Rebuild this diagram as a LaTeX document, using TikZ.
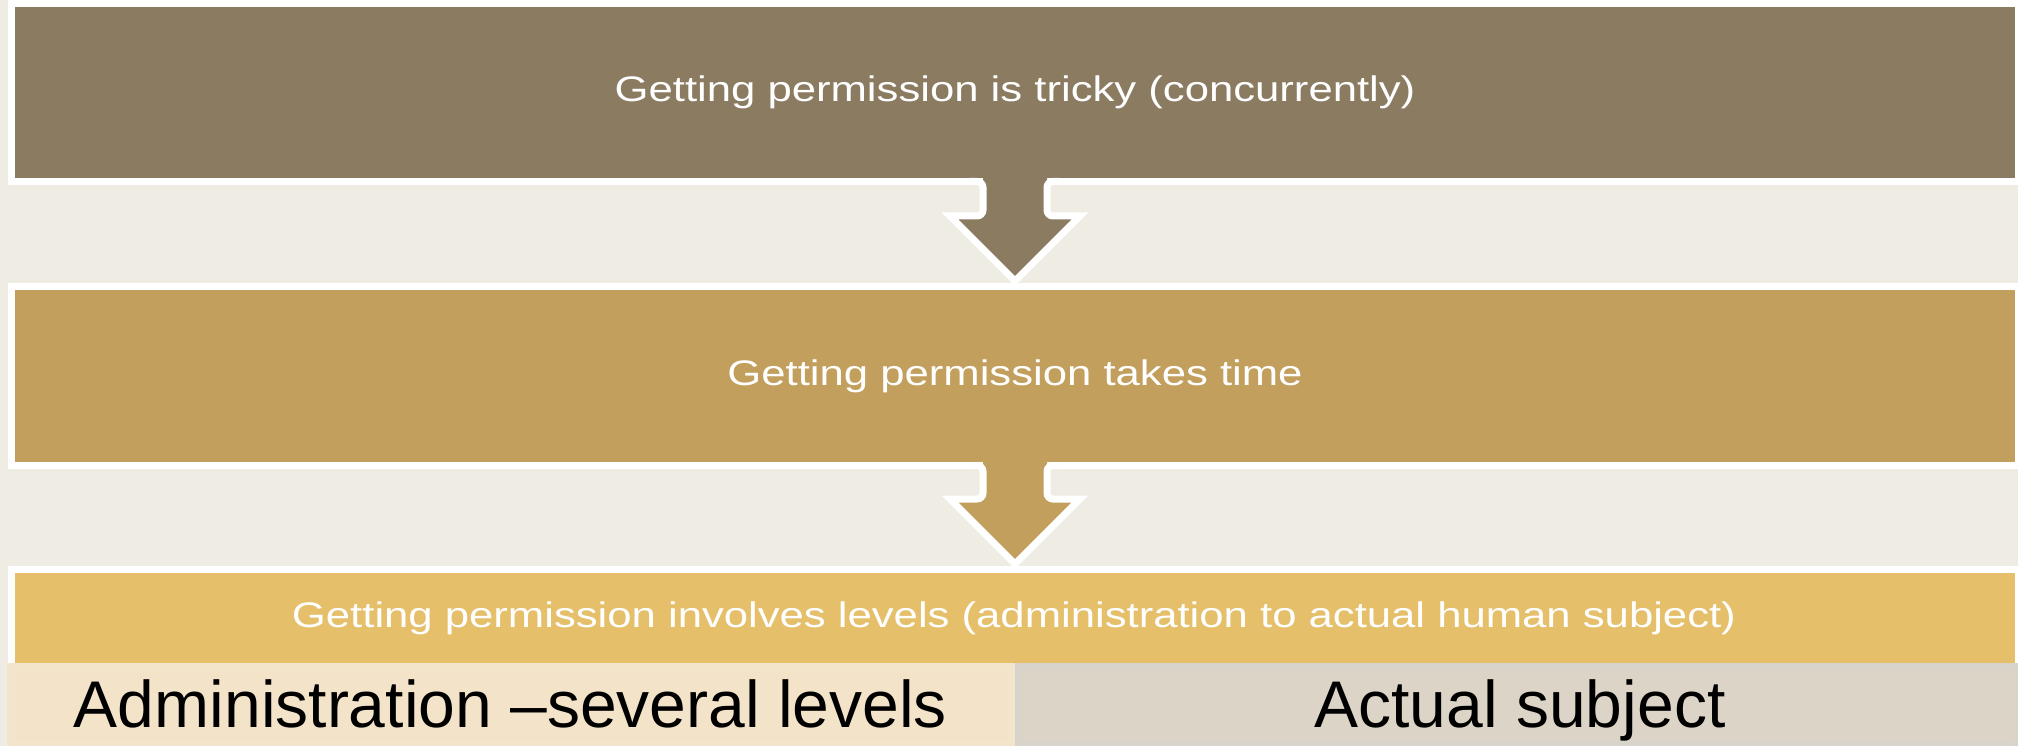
\documentclass[tikz,border=0pt]{standalone}
\usepackage{fontspec}
\setmainfont{Liberation Sans}
\newfontfamily\widefont[FakeStretch=1.23]{Liberation Sans}
\usetikzlibrary{calc}
\definecolor{bg}{HTML}{EFECE4}
\definecolor{cA}{HTML}{8A7B61}
\definecolor{cB}{HTML}{C29F5D}
\definecolor{cC}{HTML}{E5BF6A}
\definecolor{cL}{HTML}{F2E5CC}
\definecolor{cLi}{HTML}{F3E3C8}
\definecolor{cR}{HTML}{D8D4CC}
\definecolor{cRi}{HTML}{DCD4C7}
\begin{document}
\begin{tikzpicture}[x=1pt,y=-1pt,
  box/.style={rectangle, draw=white, line width=7pt, outer sep=0pt, inner sep=0pt},
  cell/.style={rectangle, draw=none, outer sep=0pt, inner sep=0pt},
  lbl/.style={text=white, font=\widefont\fontsize{35.5}{40}\selectfont, anchor=base, inner sep=0pt},
  big/.style={text=black, font=\fontsize{66}{72}\selectfont, anchor=base, inner sep=0pt},
  outline/.style={white, line width=7pt, line join=miter}
  ]
\useasboundingbox (0,0) rectangle (2018,746);
\fill[bg] (0,0) rectangle (2018,746);

% boxes
\node[box, fill=cA, minimum width=2007pt, minimum height=178pt] (b1) at (1015,92.5) {};
\node[box, fill=cB, minimum width=2007pt, minimum height=179pt] (b2) at (1015,376) {};
\node[box, fill=cC, minimum width=2007pt, minimum height=97pt] (b3) at (1015,618) {};

% arrow 1
\coordinate (tip1) at ($(b2.north)+(0,-5.5)$);
\fill[cA] ($(b1.south)+(-32,-10)$) -- ($(tip1)+(-32,-65)$) -- ($(tip1)+(-65,-65)$) -- (tip1)
  -- ($(tip1)+(65,-65)$) -- ($(tip1)+(32,-65)$) -- ($(b1.south)+(32,-10)$) -- cycle;
\draw[outline] ($(b1.south)+(-45,0)$) [rounded corners=6pt] -- ($(b1.south)+(-32,0)$)
  -- ($(tip1)+(-32,-65)$) [sharp corners] -- ($(tip1)+(-65,-65)$) -- (tip1)
  -- ($(tip1)+(65,-65)$) [rounded corners=6pt] -- ($(tip1)+(32,-65)$)
  -- ($(b1.south)+(32,0)$) -- ($(b1.south)+(45,0)$);

% arrow 2
\coordinate (tip2) at ($(b3.north)+(0,-5.5)$);
\fill[cB] ($(b2.south)+(-32,-10)$) -- ($(tip2)+(-32,-65)$) -- ($(tip2)+(-65,-65)$) -- (tip2)
  -- ($(tip2)+(65,-65)$) -- ($(tip2)+(32,-65)$) -- ($(b2.south)+(32,-10)$) -- cycle;
\draw[outline] ($(b2.south)+(-45,0)$) [rounded corners=6pt] -- ($(b2.south)+(-32,0)$)
  -- ($(tip2)+(-32,-65)$) [sharp corners] -- ($(tip2)+(-65,-65)$) -- (tip2)
  -- ($(tip2)+(65,-65)$) [rounded corners=6pt] -- ($(tip2)+(32,-65)$)
  -- ($(b2.south)+(32,0)$) -- ($(b2.south)+(45,0)$);

% bottom row
\node[cell, fill=cL, minimum width=1008pt, minimum height=83pt] (cl) at (511,704.5) {};
\node[cell, fill=cR, minimum width=1003pt, minimum height=83pt] (cr) at (1516.5,704.5) {};
\fill[cLi] (15,670) rectangle (1008,741);
\fill[cRi] (1022,670) rectangle (2015,741);

% labels
\node[lbl] (t1) at (1015,102) {Getting permission is tricky (concurrently)};
\node[lbl] (t2) at (1015,385) {Getting permission takes time};
\node[lbl] (t3) at (1014,627) {Getting permission involves levels (administration to actual human subject)};
\node[big] (t4) at (510.5,727) {Administration –several levels};
\node[big] (t5) at (1520,727) {Actual subject};
\end{tikzpicture}
\end{document}
